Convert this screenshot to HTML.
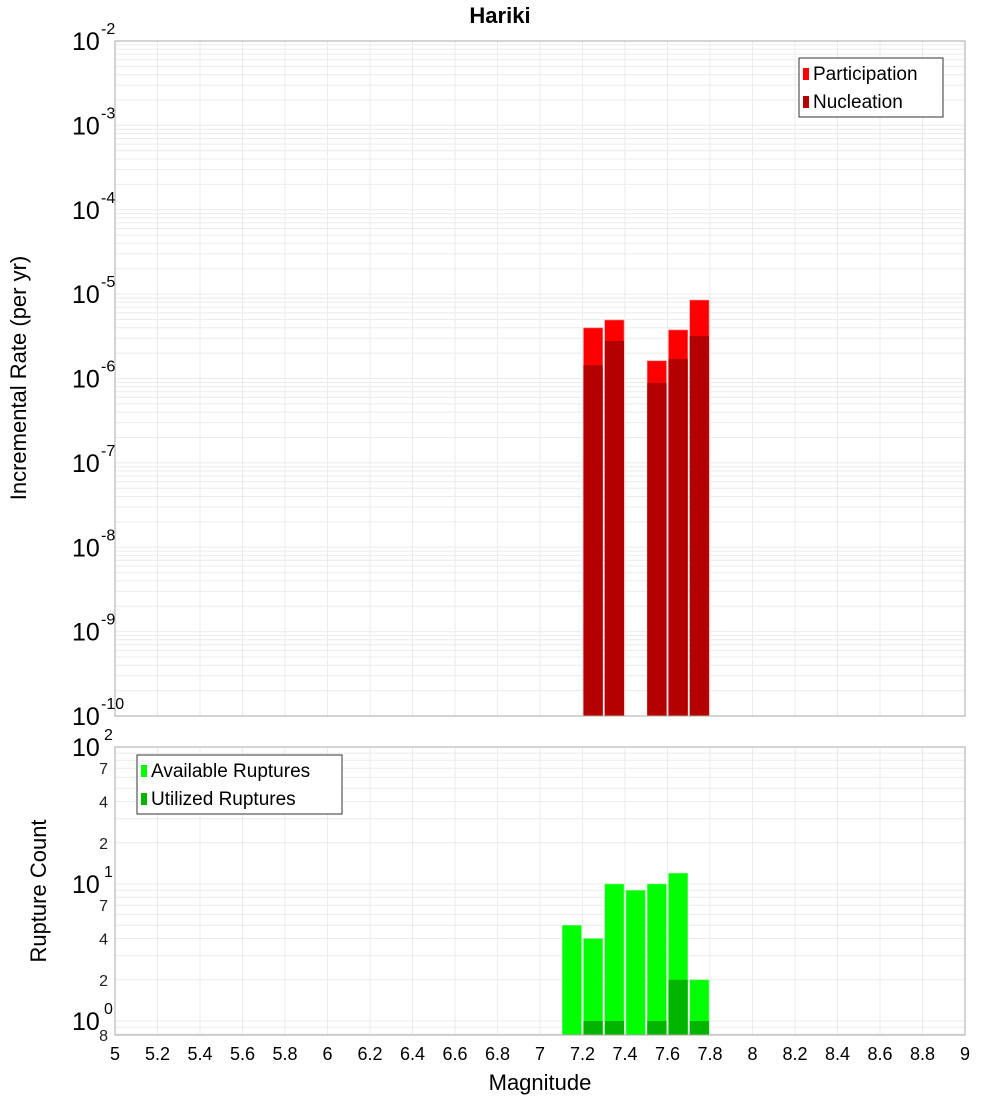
<!DOCTYPE html>
<html><head><meta charset="utf-8"><style>
body{margin:0;background:#fff}
svg{display:block;font-family:"Liberation Sans","DejaVu Sans",sans-serif}
</style></head><body>
<svg id="c" width="1000" height="1100"></svg>
<script>
const mags=[7.15,7.25,7.35,7.45,7.55,7.65,7.75];
const participation=[0,3.98e-6,4.93e-6,0,1.62e-6,3.76e-6,8.5e-6];
const nucleation=[0,1.44e-6,2.78e-6,0,8.85e-7,1.70e-6,3.19e-6];
const available=[5,4,10,9,10,12,2];
const utilized=[0,1,1,0,1,2,1];
const xTicks=[5,5.2,5.4,5.6,5.8,6,6.2,6.4,6.6,6.8,7,7.2,7.4,7.6,7.8,8,8.2,8.4,8.6,8.8,9];
const topExps=[-2,-3,-4,-5,-6,-7,-8,-9,-10];
const botMinorLabels=[7,4,2];
const NS="http://www.w3.org/2000/svg";
const svg=document.getElementById('c');
function el(t,a,p){const e=document.createElementNS(NS,t);for(const k in a)e.setAttribute(k,a[k]);(p||svg).appendChild(e);return e;}
const L=115,R=965;
const X=m=>L+(m-5)/4*(R-L);
const T0=41,T1=716;
const yTop=v=>T0+(-2-Math.log10(v))*(T1-T0)/8;
const B0=747,B1=1035,BPD=137;
const yBot=v=>B0+(2-Math.log10(v))*BPD;
const bw=(X(5.1)-X(5))/2;

// grids
const g=el('g',{});

for(let d=-10;d<-2;d++)for(let k=1;k<10;k++){const y=yTop(k*Math.pow(10,d));el('line',{x1:L,x2:R,y1:y,y2:y,stroke:'#ebebeb','stroke-width':1},g);}
for(let d=-1;d<2;d++)for(let k=1;k<10;k++){const v=k*Math.pow(10,d);const y=yBot(v);if(y>B1||y<B0)continue;el('line',{x1:L,x2:R,y1:y,y2:y,stroke:'#ebebeb','stroke-width':1},g);}
xTicks.forEach(t=>{const x=X(t);el('line',{x1:x,x2:x,y1:T0,y2:T1,stroke:'#ebebeb'},g);el('line',{x1:x,x2:x,y1:B0,y2:B1,stroke:'#ebebeb'},g);});

// top bars
mags.forEach((m,i)=>{
 if(participation[i]>0){const r=el('rect',{x:X(m)-bw+1,y:yTop(participation[i]),width:2*bw-2,height:T1-yTop(participation[i]),fill:'#ff0000',stroke:'#ff8080','stroke-width':0.6});
 }
 if(nucleation[i]>0){const r=el('rect',{x:X(m)-bw+1,y:yTop(nucleation[i]),width:2*bw-2,height:T1-yTop(nucleation[i]),fill:'#b40000'});
 }
});
// bottom bars
mags.forEach((m,i)=>{
 if(available[i]>0){const r=el('rect',{x:X(m)-bw+1,y:yBot(available[i]),width:2*bw-2,height:B1-yBot(available[i]),fill:'#00ff00',stroke:'#80ff80','stroke-width':0.6});
 }
 if(utilized[i]>0){const r=el('rect',{x:X(m)-bw+1,y:yBot(utilized[i]),width:2*bw-2,height:B1-yBot(utilized[i]),fill:'#00b400'});
 }
});
// frames
el('rect',{x:L,y:T0,width:R-L,height:T1-T0,fill:'none',stroke:'#aaa'});
el('rect',{x:L,y:B0,width:R-L,height:B1-B0,fill:'none',stroke:'#aaa'});

// top y ticks
topExps.forEach(e=>{const y=yTop(Math.pow(10,e));
 const t=el('text',{x:72,y:y+9,'font-size':25,fill:'#000'});t.textContent='10';
 
 const s=el('text',{x:101,y:y-7,'font-size':16,fill:'#000'});s.textContent=String(e);});
// bottom y ticks
[2,1,0].forEach(e=>{const y=yBot(Math.pow(10,e));
 const t=el('text',{x:72,y:y+9,'font-size':25,fill:'#000'});t.textContent='10';
 
 const s=el('text',{x:104,y:y-7,'font-size':16,fill:'#000'});s.textContent=String(e);});
[1,0].forEach(d=>botMinorLabels.forEach(k=>{const y=yBot(k*Math.pow(10,d));
 const t=el('text',{x:108,y:y+6,'font-size':16,fill:'#222','text-anchor':'end'});t.textContent=String(k);}));
{const t=el('text',{x:108,y:1041,'font-size':16,fill:'#222','text-anchor':'end'});t.textContent='8';}
// x ticks
xTicks.forEach(v=>{const t=el('text',{x:X(v),y:1060,'font-size':18,'text-anchor':'middle',fill:'#000'});t.textContent=String(v);
 });

// titles
let t=el('text',{x:500,y:23,'font-size':22,'font-weight':'bold','text-anchor':'middle'});t.textContent='Hariki';

t=el('text',{x:540,y:1090,'font-size':22,'text-anchor':'middle'});t.textContent='Magnitude';

t=el('text',{x:0,y:0,'font-size':22,'text-anchor':'middle',transform:'translate(26,378) rotate(-90)'});t.textContent='Incremental Rate (per yr)';

t=el('text',{x:0,y:0,'font-size':22,'text-anchor':'middle',transform:'translate(46,891) rotate(-90)'});t.textContent='Rupture Count';


// legends
function legend(x,y,w,items,name){const lg=el('g',{});
 el('rect',{x:x,y:y,width:w,height:59,fill:'#fff',stroke:'#333'},lg);
 items.forEach((it,i)=>{el('rect',{x:x+4,y:y+10+i*28,width:6,height:12,fill:it[1]},lg);
  const tt=el('text',{x:x+14,y:y+22+i*28,'font-size':19},lg);tt.textContent=it[0];
  });}
legend(799,58,144,[['Participation','#ff0000'],['Nucleation','#b40000']],'rate-legend');
legend(137,755,205,[['Available Ruptures','#00ff00'],['Utilized Ruptures','#00b400']],'count-legend');
</script>
</body></html>
